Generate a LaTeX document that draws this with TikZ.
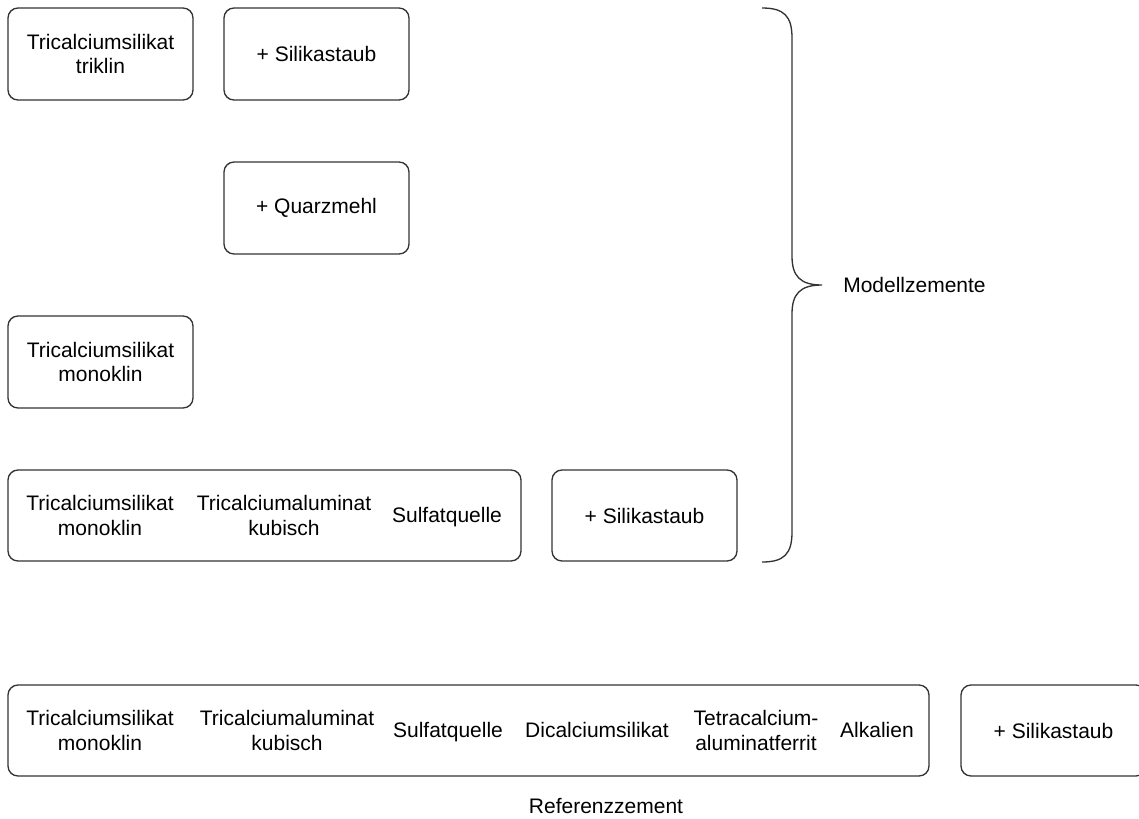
\documentclass[tikz,border=0pt]{standalone}
\usepackage{fontspec}
\setmainfont{Liberation Sans}
\begin{document}
\begin{tikzpicture}[x=0.75pt,y=-0.75pt,
  font=\fontsize{15.75}{18.5}\selectfont,
  box/.style={draw=black!80, line width=1pt, rounded corners=7.5pt, align=center, inner sep=0pt,
    minimum width=138.75pt, minimum height=69pt},
  widebox/.style={draw=black!80, line width=1pt, rounded corners=7.5pt, inner sep=0pt, minimum height=68.25pt},
  item/.style={align=center, inner sep=0pt},
  single/.style={anchor=base, inner sep=0pt},
  brace/.style={draw=black!80, line width=1pt}]
\useasboundingbox (0,0) rectangle (1139,818);

% Model cements
\node[box] (ctri) at (100.5,54) {Tricalciumsilikat\\triklin};
\node[box] (sil1) at (316.5,54) {+ Silikastaub};
\node[box] (quarz) at (316.5,208) {+ Quarzmehl};
\node[box] (cmono) at (100.5,362) {Tricalciumsilikat\\monoklin};

\node[widebox, minimum width=384.75pt] (mix) at (264.5,515.5) {};
\node[item] (mixa) at (100,515.5) {Tricalciumsilikat\\monoklin};
\node[item] (mixb) at (284,515.5) {Tricalciumaluminat\\kubisch};
\node[single] (mixc) at (447,522.5) {Sulfatquelle};
\node[box, minimum height=68.25pt] (sil2) at (644.5,515.5) {+ Silikastaub};

% Brace
\coordinate (bt) at (762,8);
\coordinate (btip) at (822,285);
\coordinate (bb) at (762,562);
\draw[brace] (bt) .. controls (784,8) and (792,16) .. (792,38) -- (792,256)
  .. controls (792,276) and (800,285) .. (btip)
  .. controls (800,285) and (792,294) .. (792,314) -- (792,532)
  .. controls (792,554) and (784,562) .. (bb);
\node[anchor=west, inner sep=0pt] (modlabel) at (843,285) {Modellzemente};

% Reference cement
\node[widebox, minimum width=690.75pt] (ref) at (468.5,730.5) {};
\node[item] (refa) at (100,730.5) {Tricalciumsilikat\\monoklin};
\node[item] (refb) at (287,730.5) {Tricalciumaluminat\\kubisch};
\node[single] (refc) at (448,737.5) {Sulfatquelle};
\node[single] (refd) at (597,737.5) {Dicalciumsilikat};
\node[item] (refe) at (756,730.5) {Tetracalcium-\\aluminatferrit};
\node[single] (reff) at (877,737.5) {Alkalien};
\node[box, minimum height=68.25pt] (sil3) at (1053.5,730.5) {+ Silikastaub};
\node[anchor=base, inner sep=0pt] (reflabel) at (606,813) {Referenzzement};
\end{tikzpicture}
\end{document}
